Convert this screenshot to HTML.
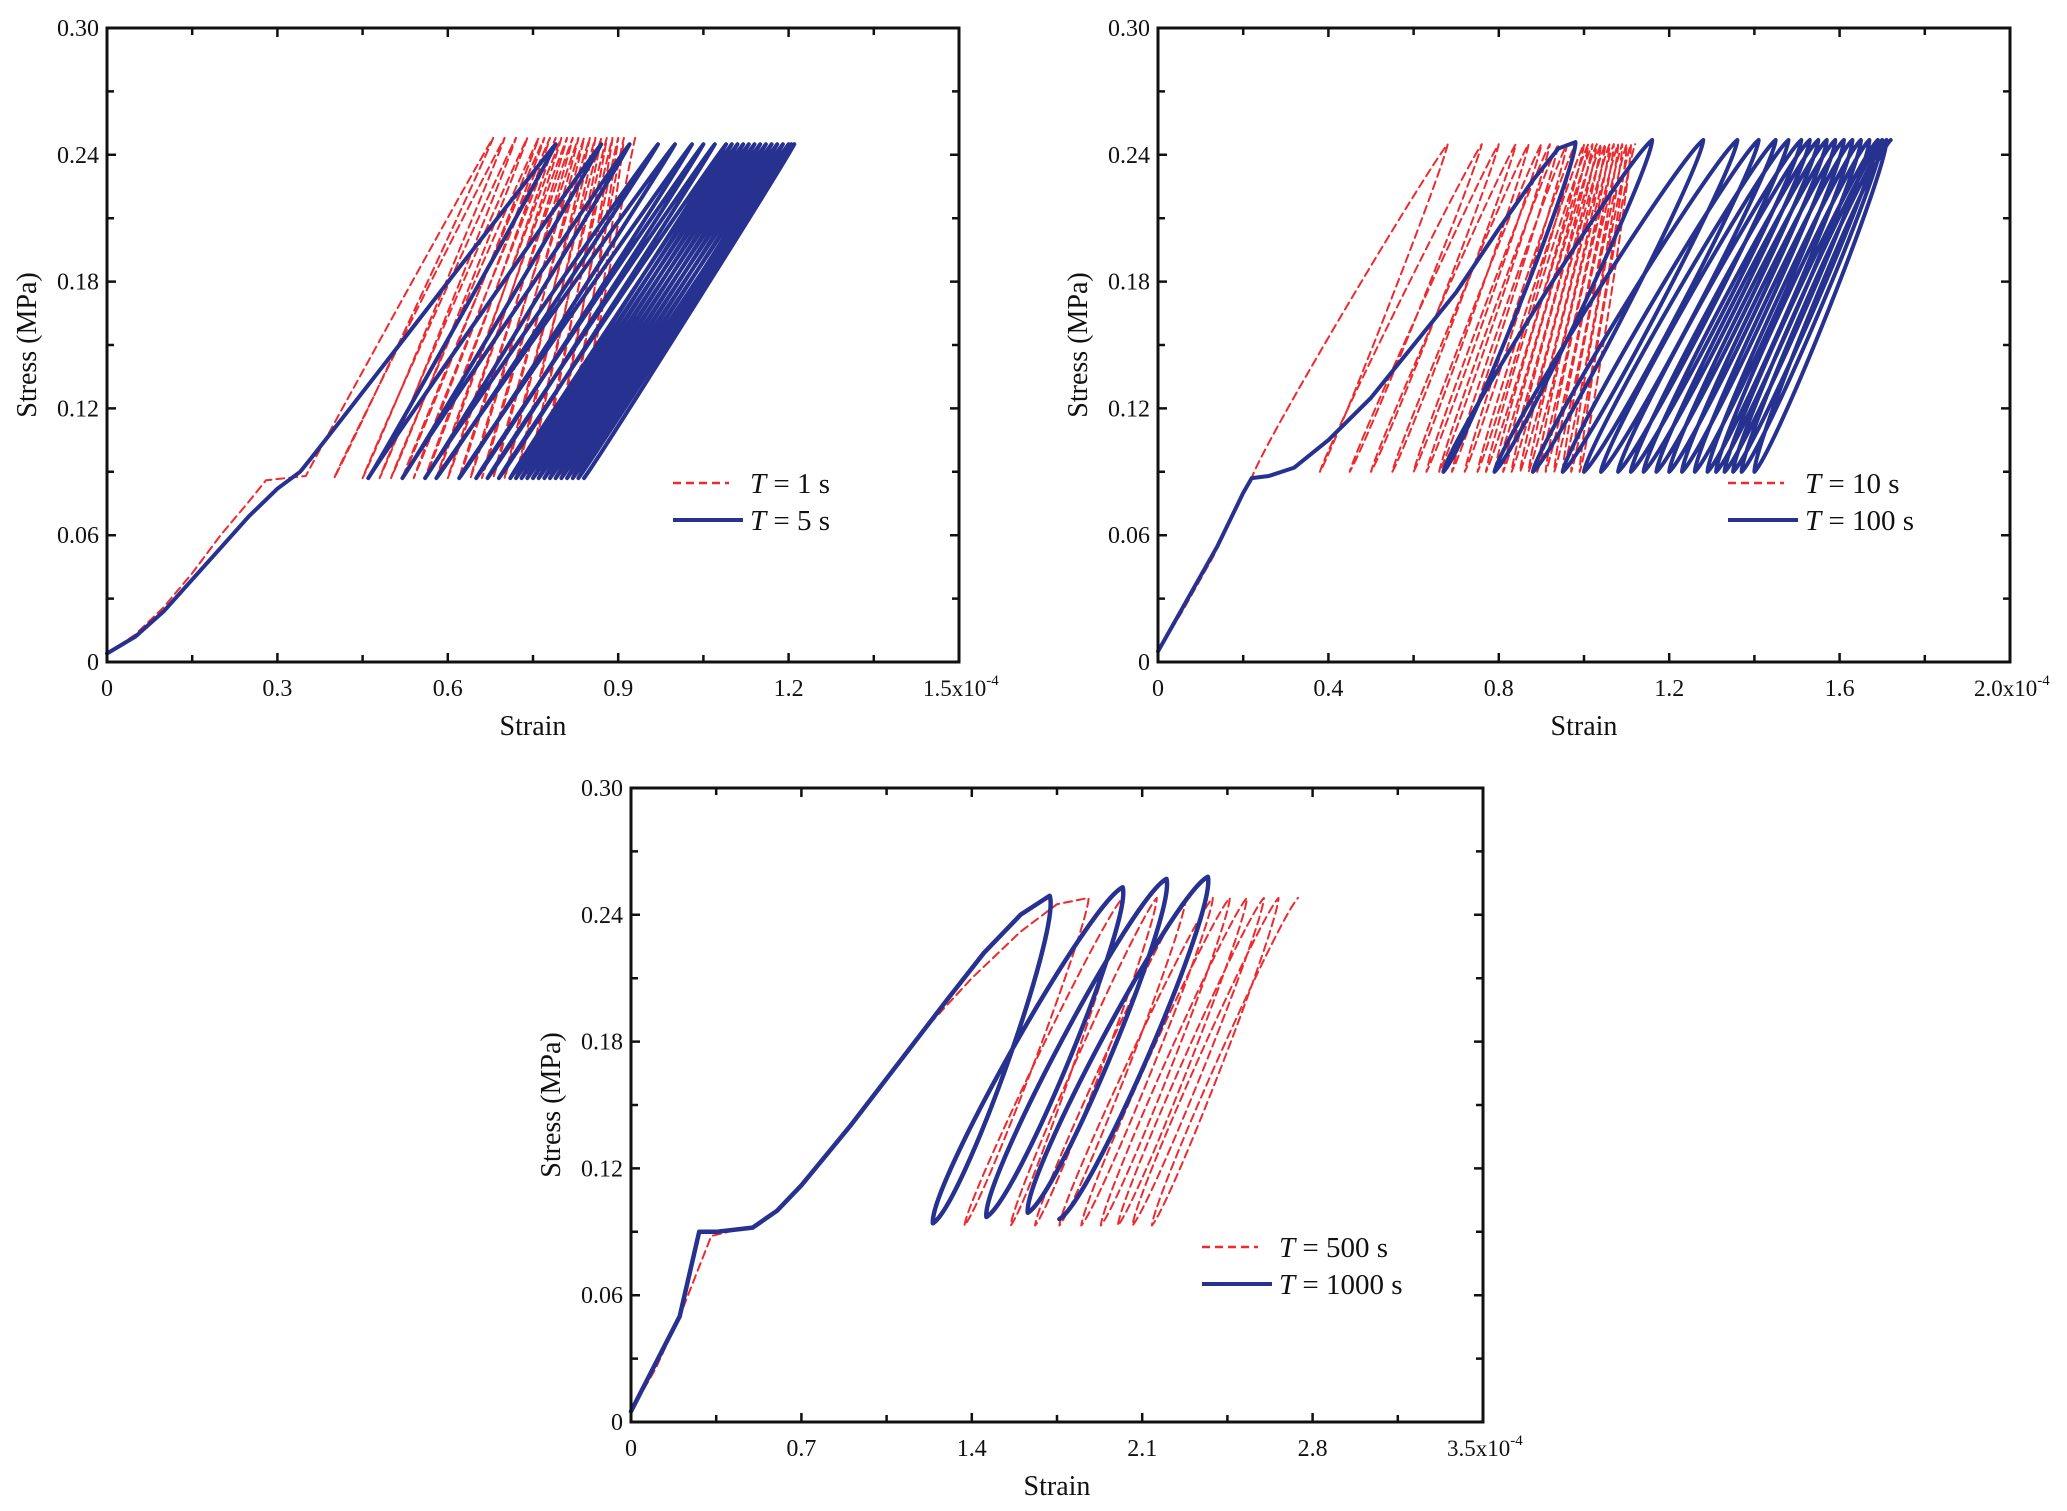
<!DOCTYPE html>
<html><head><meta charset="utf-8"><style>
html,body{margin:0;padding:0;background:#fff}
svg{display:block}
text{font-family:"Liberation Serif",serif;fill:#111}
</style></head><body>
<svg id="fig" width="2067" height="1511" viewBox="0 0 2067 1511" xmlns="http://www.w3.org/2000/svg"></svg>
<script>
// ---------- data ----------
const a_xTicks = [0, 0.3, 0.6, 0.9, 1.2, 1.5];
const a_redInitX = [0, 0.05, 0.1, 0.15, 0.2, 0.25, 0.28, 0.35];
const a_redInitY = [0.004, 0.013, 0.026, 0.042, 0.06, 0.076, 0.086, 0.088];
const a_redBottoms = [0.35,0.40,0.45,0.48,0.50,0.52,0.54,0.56,0.58,0.60,0.62,0.64,0.66,0.68,0.70,0.72,0.74,0.76,0.78,0.80,0.82];
const a_redTops = [0.68,0.70,0.72,0.74,0.76,0.77,0.78,0.79,0.80,0.81,0.82,0.83,0.84,0.85,0.86,0.87,0.88,0.89,0.90,0.91,0.93];
const a_blueInitX = [0, 0.05, 0.1, 0.15, 0.2, 0.25, 0.3, 0.34];
const a_blueInitY = [0.004, 0.012, 0.024, 0.039, 0.054, 0.069, 0.082, 0.09];
const a_blueBottoms = [0.34,0.46,0.52,0.56,0.58,0.62,0.65,0.67,0.69,0.71,0.72,0.73,0.74,0.75,0.76,0.77,0.78,0.79,0.80,0.81,0.82,0.83,0.84];
const a_blueTops = [0.79,0.87,0.92,0.97,1.00,1.03,1.05,1.07,1.09,1.10,1.11,1.12,1.13,1.14,1.15,1.16,1.17,1.18,1.19,1.20,1.205,1.21];
const b_xTicks = [0, 0.4, 0.8, 1.2, 1.6, 2.0];
const b_redInitX = [0, 0.06, 0.13, 0.2, 0.22];
const b_redInitY = [0.005, 0.025, 0.05, 0.08, 0.087];
const b_redBottoms = [0.22,0.38,0.45,0.50,0.55,0.60,0.63,0.66,0.69,0.72,0.75,0.77,0.79,0.81,0.83,0.85,0.87,0.89,0.91,0.93,0.95,0.97,0.99];
const b_redTops = [0.68,0.76,0.80,0.84,0.87,0.90,0.92,0.94,0.96,0.98,1.00,1.01,1.02,1.03,1.04,1.05,1.06,1.07,1.08,1.09,1.10,1.11,1.12];
const b_blueInitX = [0, 0.07, 0.14, 0.2, 0.22, 0.26, 0.32, 0.4, 0.5, 0.6, 0.7, 0.8, 0.88, 0.94, 0.98];
const b_blueInitY = [0.005, 0.03, 0.055, 0.08, 0.087, 0.088, 0.092, 0.105, 0.125, 0.15, 0.175, 0.205, 0.228, 0.243, 0.246];
const b_blueTops = [0.98,1.16,1.28,1.36,1.41,1.45,1.48,1.51,1.53,1.55,1.57,1.59,1.61,1.63,1.65,1.67,1.69,1.70,1.71,1.72];
const b_blueBottoms = [0.67,0.79,0.88,0.95,1.0,1.04,1.08,1.11,1.14,1.17,1.20,1.23,1.26,1.29,1.31,1.33,1.35,1.37,1.40];
const c_xTicks = [0, 0.7, 1.4, 2.1, 2.8, 3.5];
const c_redInitX = [0, 0.1, 0.2, 0.33, 0.4, 0.5, 0.6, 0.8, 1.0, 1.2, 1.4, 1.6, 1.75, 1.88];
const c_redInitY = [0.005, 0.025, 0.05, 0.088, 0.09, 0.092, 0.1, 0.125, 0.155, 0.185, 0.21, 0.232, 0.245, 0.248];
const c_redTops = [1.88,2.02,2.16,2.28,2.39,2.46,2.53,2.60,2.66,2.74];
const c_redBottoms = [1.37,1.56,1.66,1.76,1.85,1.93,2.0,2.06,2.14];
const c_blueInitX = [0, 0.2, 0.28, 0.35, 0.5, 0.6, 0.7, 0.9, 1.1, 1.3, 1.45, 1.6, 1.72];
const c_blueInitY = [0.005, 0.05, 0.09, 0.09, 0.092, 0.1, 0.112, 0.14, 0.17, 0.2, 0.222, 0.24, 0.249];
const c_blueTops = [1.72, 2.02, 2.20, 2.37];
const c_blueTopStress = [0.249, 0.253, 0.257, 0.258];
const c_blueBottoms = [1.24, 1.46, 1.63, 1.76];
const c_blueBottomStress = [0.094, 0.097, 0.099, 0.096];
const yTicks = [0, 0.06, 0.12, 0.18, 0.24, 0.30];
const yTickLabels = ['0','0.06','0.12','0.18','0.24','0.30'];

// ---------- drawing ----------
const NS = 'http://www.w3.org/2000/svg';
const svg = document.getElementById('fig');
const RED = '#ee2a2e', BLUE = '#27318f';
function mk(tag, attrs, parent){ const e=document.createElementNS(NS,tag); for(const k in attrs) e.setAttribute(k,attrs[k]); (parent||svg).appendChild(e); return e; }
function val(a,i){ return Array.isArray(a) ? a[i] : a; }

function panel(cfg){
  const {L,R,T,B,xmax,xTicks,name} = cfg;
  const g = mk('g',{});
  
  
  const sx = v => L + v/xmax*(R-L);
  const sy = v => B - v/0.30*(B-T);
  const P = (x,y)=>[sx(x),sy(y)];
  function series(s){
    let d = '';
    s.initX.forEach((x,i)=>{ const p=P(x,s.initY[i]); d += (i?'L':'M')+p[0].toFixed(1)+' '+p[1].toFixed(1)+' '; });
    const seg = (A,Bp,b)=>{ const dx=Bp[0]-A[0], dy=Bp[1]-A[1], len=Math.hypot(dx,dy)||1; const nx=dy/len*b, ny=-dx/len*b;
      return 'C'+(A[0]+0.08*dx+nx).toFixed(1)+' '+(A[1]+0.08*dy+ny).toFixed(1)+' '+(A[0]+0.92*dx+nx).toFixed(1)+' '+(A[1]+0.92*dy+ny).toFixed(1)+' '+Bp[0].toFixed(1)+' '+Bp[1].toFixed(1)+' '; };
    const n = Math.max(s.tops.length, s.bottoms.length);
    for(let i=0;i<n;i++){
      if(s.startTop){
        if(i<s.tops.length && i<s.bottoms.length) d += seg(P(s.tops[i],val(s.topY,i)), P(s.bottoms[i],val(s.botY,i)), s.bulge);
        if(i<s.bottoms.length && i+1<s.tops.length) d += seg(P(s.bottoms[i],val(s.botY,i)), P(s.tops[i+1],val(s.topY,i+1)), s.bulge);
      } else {
        if(i<s.bottoms.length && i<s.tops.length) d += seg(P(s.bottoms[i],val(s.botY,i)), P(s.tops[i],val(s.topY,i)), s.bulge);
        if(i<s.tops.length && i+1<s.bottoms.length) d += seg(P(s.tops[i],val(s.topY,i)), P(s.bottoms[i+1],val(s.botY,i+1)), s.bulge);
      }
    }
    const p = mk('path',{d:d, fill:'none', stroke:s.color, 'stroke-width':s.w, 'stroke-dasharray':s.dash||'none', 'stroke-linejoin':'round','stroke-linecap':'round'}, g);
    
    
  }
  cfg.series.forEach(series);
  const fr = mk('rect',{x:L,y:T,width:R-L,height:B-T,fill:'none',stroke:'#111','stroke-width':3},g);
  
  
  let td='';
  for(let i=0;i<xTicks.length;i++){
    const x=sx(xTicks[i]); td+=`M${x} ${B}v-9M${x} ${T}v9`;
    if(i<xTicks.length-1){ const xm=sx((xTicks[i]+xTicks[i+1])/2); td+=`M${xm} ${B}v-7M${xm} ${T}v7`; }
  }
  for(let i=0;i<yTicks.length;i++){
    const y=sy(yTicks[i]); td+=`M${L} ${y}h9M${R} ${y}h-9`;
    if(i<yTicks.length-1){ const ym=sy((yTicks[i]+yTicks[i+1])/2); td+=`M${L} ${ym}h7M${R} ${ym}h-7`; }
  }
  const tk = mk('path',{d:td,stroke:'#111','stroke-width':2.5,fill:'none'},g);
  
  
  xTicks.forEach((v,i)=>{
    const t = mk('text',{x:sx(v),y:B+34,'font-size':24,'text-anchor':'middle'},g);
    
    
    if(i===xTicks.length-1){ t.setAttribute('text-anchor','start'); t.setAttribute('x',sx(v)-36); t.setAttribute('font-size',23);
      t.textContent = v.toFixed(1)+'x10';
      const sp = mk('tspan',{dy:-11,'font-size':15},t); sp.textContent='-4';
    } else t.textContent = v===0 ? '0' : String(v.toFixed(1));
  });
  yTicks.forEach((v,i)=>{
    const t = mk('text',{x:L-8,y:sy(v)+8,'font-size':24,'text-anchor':'end'},g);
    
    
    t.textContent = yTickLabels[i];
  });
  const xt = mk('text',{x:(L+R)/2,y:B+73,'font-size':28,'text-anchor':'middle'},g);
  
  
  xt.textContent='Strain';
  const yt = mk('text',{x:0,y:0,'font-size':28,'text-anchor':'middle',transform:`translate(${L-71},${(T+B)/2}) rotate(-90)`},g);
  
  
  yt.textContent='Stress (MPa)';
  cfg.series.forEach((s,i)=>{
    const y = cfg.legY + i*37;
    const ln = mk('line',{x1:cfg.legX,x2:cfg.legX+(s.dash?56:70),y1:y,y2:y,stroke:s.color,'stroke-width':s.dash?2.5:4,'stroke-dasharray':s.dash||'none'},g);
    
    
    const t = mk('text',{x:cfg.legX+77,y:y+10,'font-size':29},g);
    
    
    const it = mk('tspan',{'font-style':'italic'},t); it.textContent='T';
    const rest = mk('tspan',{},t); rest.textContent=' = '+s.label;
  });
}

panel({name:'panel-t1-t5',L:107,R:959,T:28,B:662,xmax:1.5,xTicks:a_xTicks,legX:673,legY:483,series:[
  {name:'series-T1',label:'1 s',color:RED,w:2,dash:'8 5',initX:a_redInitX,initY:a_redInitY,bottoms:a_redBottoms,tops:a_redTops,topY:0.248,botY:0.087,bulge:2,startTop:false},
  {name:'series-T5',label:'5 s',color:BLUE,w:4,initX:a_blueInitX,initY:a_blueInitY,bottoms:a_blueBottoms,tops:a_blueTops,topY:0.245,botY:0.087,bulge:2,startTop:false}
]});
panel({name:'panel-t10-t100',L:1158,R:2010,T:28,B:662,xmax:2.0,xTicks:b_xTicks,legX:1728,legY:483,series:[
  {name:'series-T10',label:'10 s',color:RED,w:2,dash:'8 5',initX:b_redInitX,initY:b_redInitY,bottoms:b_redBottoms,tops:b_redTops,topY:0.245,botY:0.09,bulge:5,startTop:false},
  {name:'series-T100',label:'100 s',color:BLUE,w:4,initX:b_blueInitX,initY:b_blueInitY,bottoms:b_blueBottoms,tops:b_blueTops,topY:0.247,botY:0.09,bulge:12,startTop:true}
]});
panel({name:'panel-t500-t1000',L:631,R:1483,T:788,B:1422,xmax:3.5,xTicks:c_xTicks,legX:1202,legY:1247,series:[
  {name:'series-T500',label:'500 s',color:RED,w:2,dash:'8 5',initX:c_redInitX,initY:c_redInitY,bottoms:c_redBottoms,tops:c_redTops,topY:0.248,botY:0.093,bulge:10,startTop:true},
  {name:'series-T1000',label:'1000 s',color:BLUE,w:4.5,initX:c_blueInitX,initY:c_blueInitY,bottoms:c_blueBottoms,tops:c_blueTops,topY:c_blueTopStress,botY:c_blueBottomStress,bulge:22,startTop:true}
]});
</script>
</body></html>
